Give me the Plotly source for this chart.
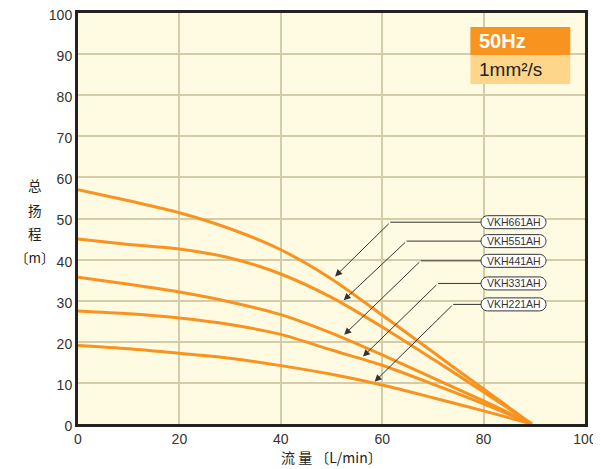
import plotly.graph_objects as go

flow = [0, 10, 20, 30, 40, 50, 60, 70, 80, 89.5]
models = ["VKH661AH", "VKH551AH", "VKH441AH", "VKH331AH", "VKH221AH"]
head = {
    "VKH661AH": [57.0, 54.3, 51.4, 47.5, 42.4, 35.3, 26.5, 17.5, 8.5, 0],
    "VKH551AH": [45.0, 43.7, 42.6, 40.4, 36.5, 30.8, 23.6, 15.8, 7.8, 0],
    "VKH441AH": [35.7, 34.0, 32.1, 29.7, 26.6, 22.1, 16.8, 11.2, 5.6, 0],
    "VKH331AH": [27.5, 26.8, 25.8, 24.2, 21.8, 18.0, 14.3, 9.7, 4.9, 0],
    "VKH221AH": [19.1, 18.3, 17.2, 16.0, 14.2, 12.1, 9.5, 6.4, 3.2, 0],
}
# label anchor (x, y), leader knee (x, y), arrow tip (x, y)
label_pos = [(85.9, 49.1), (85.9, 44.5), (85.9, 39.7), (85.9, 34.2), (85.9, 29.1)]
knee_pos = [(61.6, 49.4), (64.8, 44.4), (67.6, 39.7), (71.0, 34.5), (74.0, 29.2)]
tip_pos = [(50.7, 35.9), (52.4, 30.1), (52.5, 21.7), (56.2, 16.4), (58.5, 10.3)]
x_ticks = [0, 20, 40, 60, 80, 100]
y_ticks = list(range(0, 101, 10))

ORANGE = "#F7931E"
fig = go.Figure()

for m in models:
    fig.add_trace(go.Scatter(x=flow, y=head[m], mode="lines", name=m,
                             line=dict(color=ORANGE, width=3, shape="spline", smoothing=0.8),
                             hoverinfo="skip", showlegend=False))

label_left = 79.5
for m, (lx, ly), (kx, ky), (tx, ty) in zip(models, label_pos, knee_pos, tip_pos):
    fig.add_trace(go.Scatter(x=[label_left, kx], y=[ly, ly], mode="lines",
                             line=dict(color="#333333", width=1), hoverinfo="skip",
                             showlegend=False))
    fig.add_annotation(x=tx, y=ty, ax=kx, ay=ly, xref="x", yref="y", axref="x", ayref="y",
                       text="", showarrow=True, arrowhead=2, arrowsize=1.4, arrowwidth=1,
                       arrowcolor="#333333")
    k = 0.5523 * 6.5
    path = (f"M -26,-6.5 L 26,-6.5 C {26+k},-6.5 32.5,{-k} 32.5,0 "
            f"C 32.5,{k} {26+k},6.5 26,6.5 L -26,6.5 C {-26-k},6.5 -32.5,{k} -32.5,0 "
            f"C -32.5,{-k} {-26-k},-6.5 -26,-6.5 Z")
    fig.add_shape(type="path", xref="x", yref="y", xsizemode="pixel", ysizemode="pixel",
                  xanchor=lx, yanchor=ly, path=path, fillcolor="white",
                  line=dict(color="#333333", width=1))
    fig.add_annotation(x=lx, y=ly, xref="x", yref="y", text=m, showarrow=False,
                       xanchor="center", yanchor="middle",
                       font=dict(family="Liberation Sans, Arial", size=10.5, color="#333333"))

# condition box
fig.add_shape(type="rect", xref="x", yref="y", x0=77.4, x1=97.1, y0=89.8, y1=96.6,
              fillcolor=ORANGE, line=dict(width=0), layer="above")
fig.add_shape(type="rect", xref="x", yref="y", x0=77.4, x1=97.1, y0=82.7, y1=89.8,
              fillcolor="#FDD68B", line=dict(width=0), layer="above")
fig.add_annotation(x=78.7, y=93.2, xref="x", yref="y", text="<b>50Hz</b>", showarrow=False,
                   xanchor="left", yanchor="middle",
                   font=dict(family="Liberation Sans, Arial", size=20, color="white"))
fig.add_annotation(x=78.7, y=86.2, xref="x", yref="y", text="1mm²/s", showarrow=False,
                   xanchor="left", yanchor="middle",
                   font=dict(family="Liberation Sans, Arial", size=19, color="#222222"))

# axis titles (page pixel positions converted to paper coords)
cjk = "Noto Sans CJK SC"
for ch, px, py in [("总", 35, 185), ("扬", 35, 210), ("程", 35, 233), ("〔m〕", 35, 257)]:
    fig.add_annotation(x=(px - 77.7) / 507.3, y=(424 - py) / 411, xref="paper", yref="paper",
                       text=ch, showarrow=False, xanchor="center", yanchor="middle",
                       font=dict(family=cjk, size=13.5, color="#222222"))
fig.add_annotation(x=(331 - 77.7) / 507.3, y=(424 - 457) / 411, xref="paper", yref="paper",
                   text="流 量 〔L/min〕", showarrow=False, xanchor="center", yanchor="middle",
                   font=dict(family=cjk, size=14, color="#222222"))

# page body has an 8px margin, so the figure is sized/margined to compensate
fig.update_layout(
    width=593, height=461,
    margin=dict(l=70, r=16, t=5, b=45),
    paper_bgcolor="white", plot_bgcolor="#FFFBE3",
    showlegend=False,
)
fig.update_xaxes(range=[0, 100], tickvals=x_ticks, showgrid=True, gridcolor="#D4CBA8",
                 gridwidth=1.5, showline=True, linecolor="#222222", linewidth=3, mirror=True,
                 zeroline=False, ticks="", automargin=False, ticklabeloverflow="allow",
                 tickfont=dict(family="Liberation Sans, Arial", size=14, color="#333333"))
fig.update_yaxes(range=[0, 100], tickvals=y_ticks, showgrid=True, gridcolor="#D4CBA8",
                 gridwidth=1.5, showline=True, linecolor="#222222", linewidth=3, mirror=True,
                 zeroline=False, ticks="", automargin=False, ticklabeloverflow="allow",
                 ticklabelshift=2,
                 tickfont=dict(family="Liberation Sans, Arial", size=14, color="#333333"))

fig.write_html("out.html")
